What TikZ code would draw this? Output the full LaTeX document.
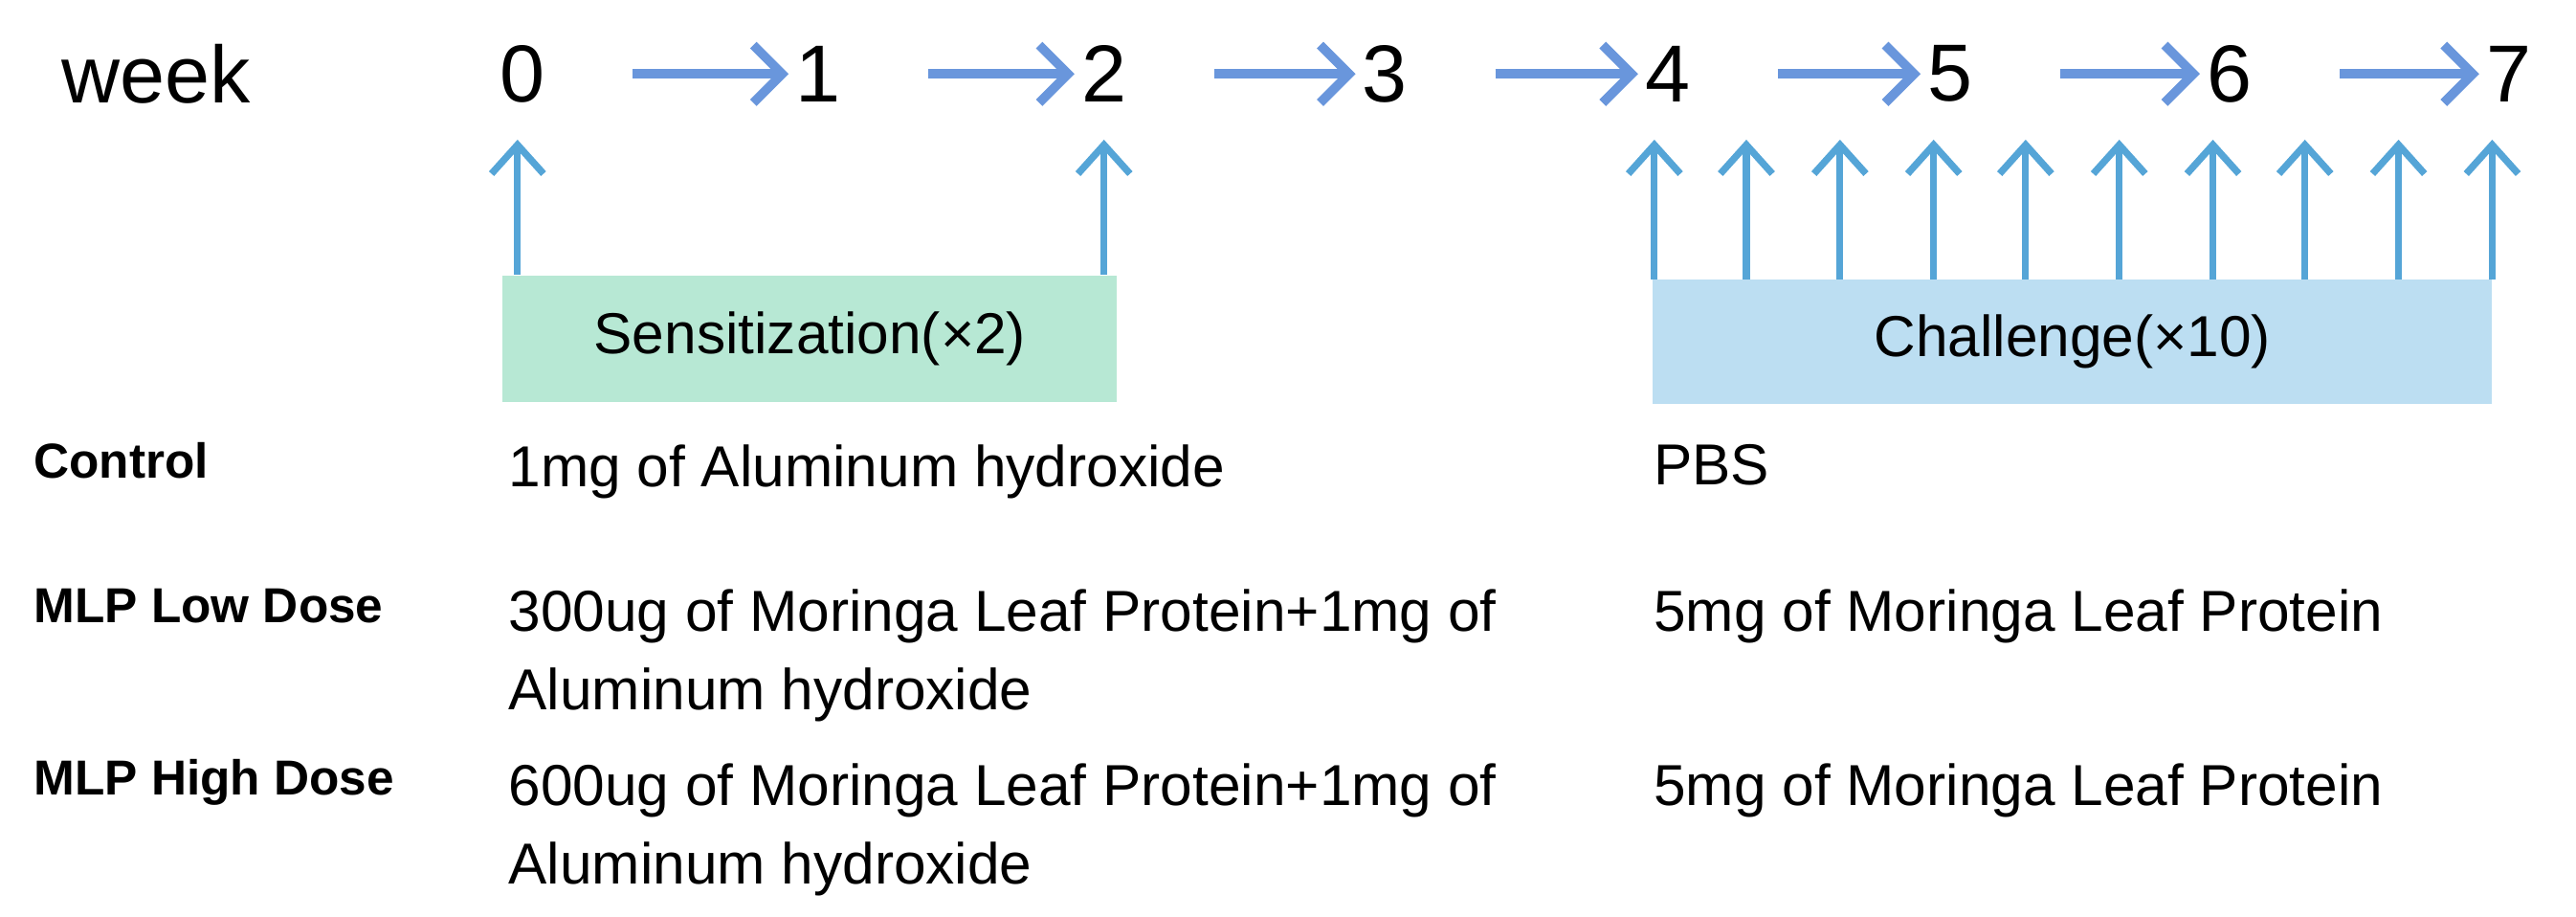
\documentclass[tikz,border=0pt]{standalone}
\usepackage{fontspec}
\setmainfont{Liberation Sans}
\usetikzlibrary{arrows.meta}
\definecolor{harr}{RGB}{105,150,220}
\definecolor{varr}{RGB}{85,165,215}
\definecolor{sens}{RGB}{183,232,212}
\definecolor{chal}{RGB}{188,222,242}
\begin{document}
\begin{tikzpicture}[x=0.01cm,y=-0.01cm,
  num/.style={font=\fontsize{14}{16}\selectfont, inner sep=1pt},
  harrow/.style={draw=harr, line width=1.6pt, -{Straight Barb[length=5pt,width=10pt]}},
  varrow/.style={draw=varr, line width=1.2pt, -{Straight Barb[length=5pt,width=9pt]}},
  lbl/.style={font=\bfseries\fontsize{8.5}{10}\selectfont, anchor=west, inner sep=0pt},
  txt/.style={font=\fontsize{10}{13.5}\selectfont, anchor=north west, inner sep=0pt, align=left}]
\useasboundingbox (0,0) rectangle (1568,558);
\node[num] (week) at (95,45) {week};
\foreach \i/\x in {0/318,1/498,2/672,3/843,4/1015,5/1187,6/1357,7/1527}
  \node[num] (n\i) at (\x,45) {\i};
\foreach \a/\b in {0/1,1/2,2/3,3/4,4/5,5/6,6/7}
  \draw[harrow] ([xshift=14pt]n\a.east) -- (n\b.west);
\node[fill=sens, minimum width=374*0.01cm, minimum height=77*0.01cm, inner sep=0pt,
  font=\fontsize{10}{12}\selectfont] (sb) at (493,206) {Sensitization(×2)};
\node[fill=chal, minimum width=511*0.01cm, minimum height=76*0.01cm, inner sep=0pt,
  font=\fontsize{10}{12}\selectfont] (cb) at (1261.5,208) {Challenge(×10)};
\foreach \x [count=\k] in {315,672} {
  \coordinate (s\k) at (\x,167); \coordinate (st\k) at (\x,85);
  \draw[varrow] (s\k) -- (st\k);}
\foreach \x [count=\k] in {1007,1063,1120,1177,1233,1290,1347,1403,1460,1517} {
  \coordinate (c\k) at (\x,170); \coordinate (ct\k) at (\x,85);
  \draw[varrow] (c\k) -- (ct\k);}
\node[lbl] (l1) at (20,280) {Control};
\node[lbl] (l2) at (20,369) {MLP Low Dose};
\node[lbl] (l3) at (20,476) {MLP High Dose};
\node[txt] (a1) at (309,270) {1mg of Aluminum hydroxide};
\node[txt] (b1) at (1006,270) {PBS};
\node[txt] (a2) at (309,358) {300ug of Moringa Leaf Protein+1mg of\\Aluminum hydroxide};
\node[txt] (b2) at (1006,358) {5mg of Moringa Leaf Protein};
\node[txt] (a3) at (309,464) {600ug of Moringa Leaf Protein+1mg of\\Aluminum hydroxide};
\node[txt] (b3) at (1006,464) {5mg of Moringa Leaf Protein};
\end{tikzpicture}
\end{document}
